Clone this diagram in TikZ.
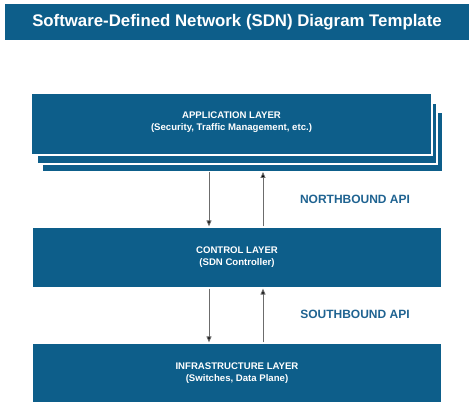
\documentclass[tikz,border=0pt]{standalone}
\usepackage{fontspec}
\setmainfont{Liberation Sans}
\usetikzlibrary{arrows.meta}
\definecolor{sdnblue}{HTML}{0D5E8A}
\definecolor{apiblue}{HTML}{1F6391}
\begin{document}
\begin{tikzpicture}[x=1pt,y=-1pt,
  layerbox/.style={fill=sdnblue,draw=white,line width=1.2pt},
  layertext/.style={text=white,font=\bfseries\fontsize{9.6}{12}\selectfont,align=center},
  apilabel/.style={text=apiblue,font=\bfseries\fontsize{12}{13}\selectfont},
  flow/.style={draw=gray!85!black,line width=0.9pt,-{Triangle[length=6pt,width=5pt,fill=black]}}]
\useasboundingbox (0,0) rectangle (474,409);
% title
\fill[sdnblue] (5,4) rectangle (469,40);
\node[text=white,font=\bfseries\fontsize{16.8}{19}\selectfont] (title) at (237,22) {Software-Defined Network (SDN) Diagram Template};
% application stack
\draw[layerbox] (42,112) rectangle (443,172);
\draw[layerbox] (37,103) rectangle (437,164);
\draw[layerbox] (31,93) rectangle (432,155);
\coordinate (appbot1) at (209,172);
\coordinate (appbot2) at (263,172);
\node[layertext] (app) at (231.5,122) {APPLICATION LAYER\\(Security, Traffic Management, etc.)};
% control
\node[layerbox,minimum width=410pt,minimum height=61pt,inner sep=0pt] (ctrl) at (237,257.5) {};
\node[layertext] (ctrltext) at (237,257) {CONTROL LAYER\\(SDN Controller)};
% infrastructure
\node[layerbox,minimum width=410pt,minimum height=60pt,inner sep=0pt] (infra) at (237,373) {};
\node[layertext] (infratext) at (237,373) {INFRASTRUCTURE LAYER\\(Switches, Data Plane)};
% arrows
\draw[flow] (appbot1) -- (appbot1 |- ctrl.north);
\draw[flow] (appbot2 |- ctrl.north) -- (appbot2);
\draw[flow] (appbot1 |- ctrl.south) -- (appbot1 |- infra.north);
\draw[flow] (appbot2 |- infra.north) -- (appbot2 |- ctrl.south);
% API labels
\node[apilabel] (north) at (355,199) {NORTHBOUND API};
\node[apilabel] (south) at (355,314) {SOUTHBOUND API};
\end{tikzpicture}
\end{document}
